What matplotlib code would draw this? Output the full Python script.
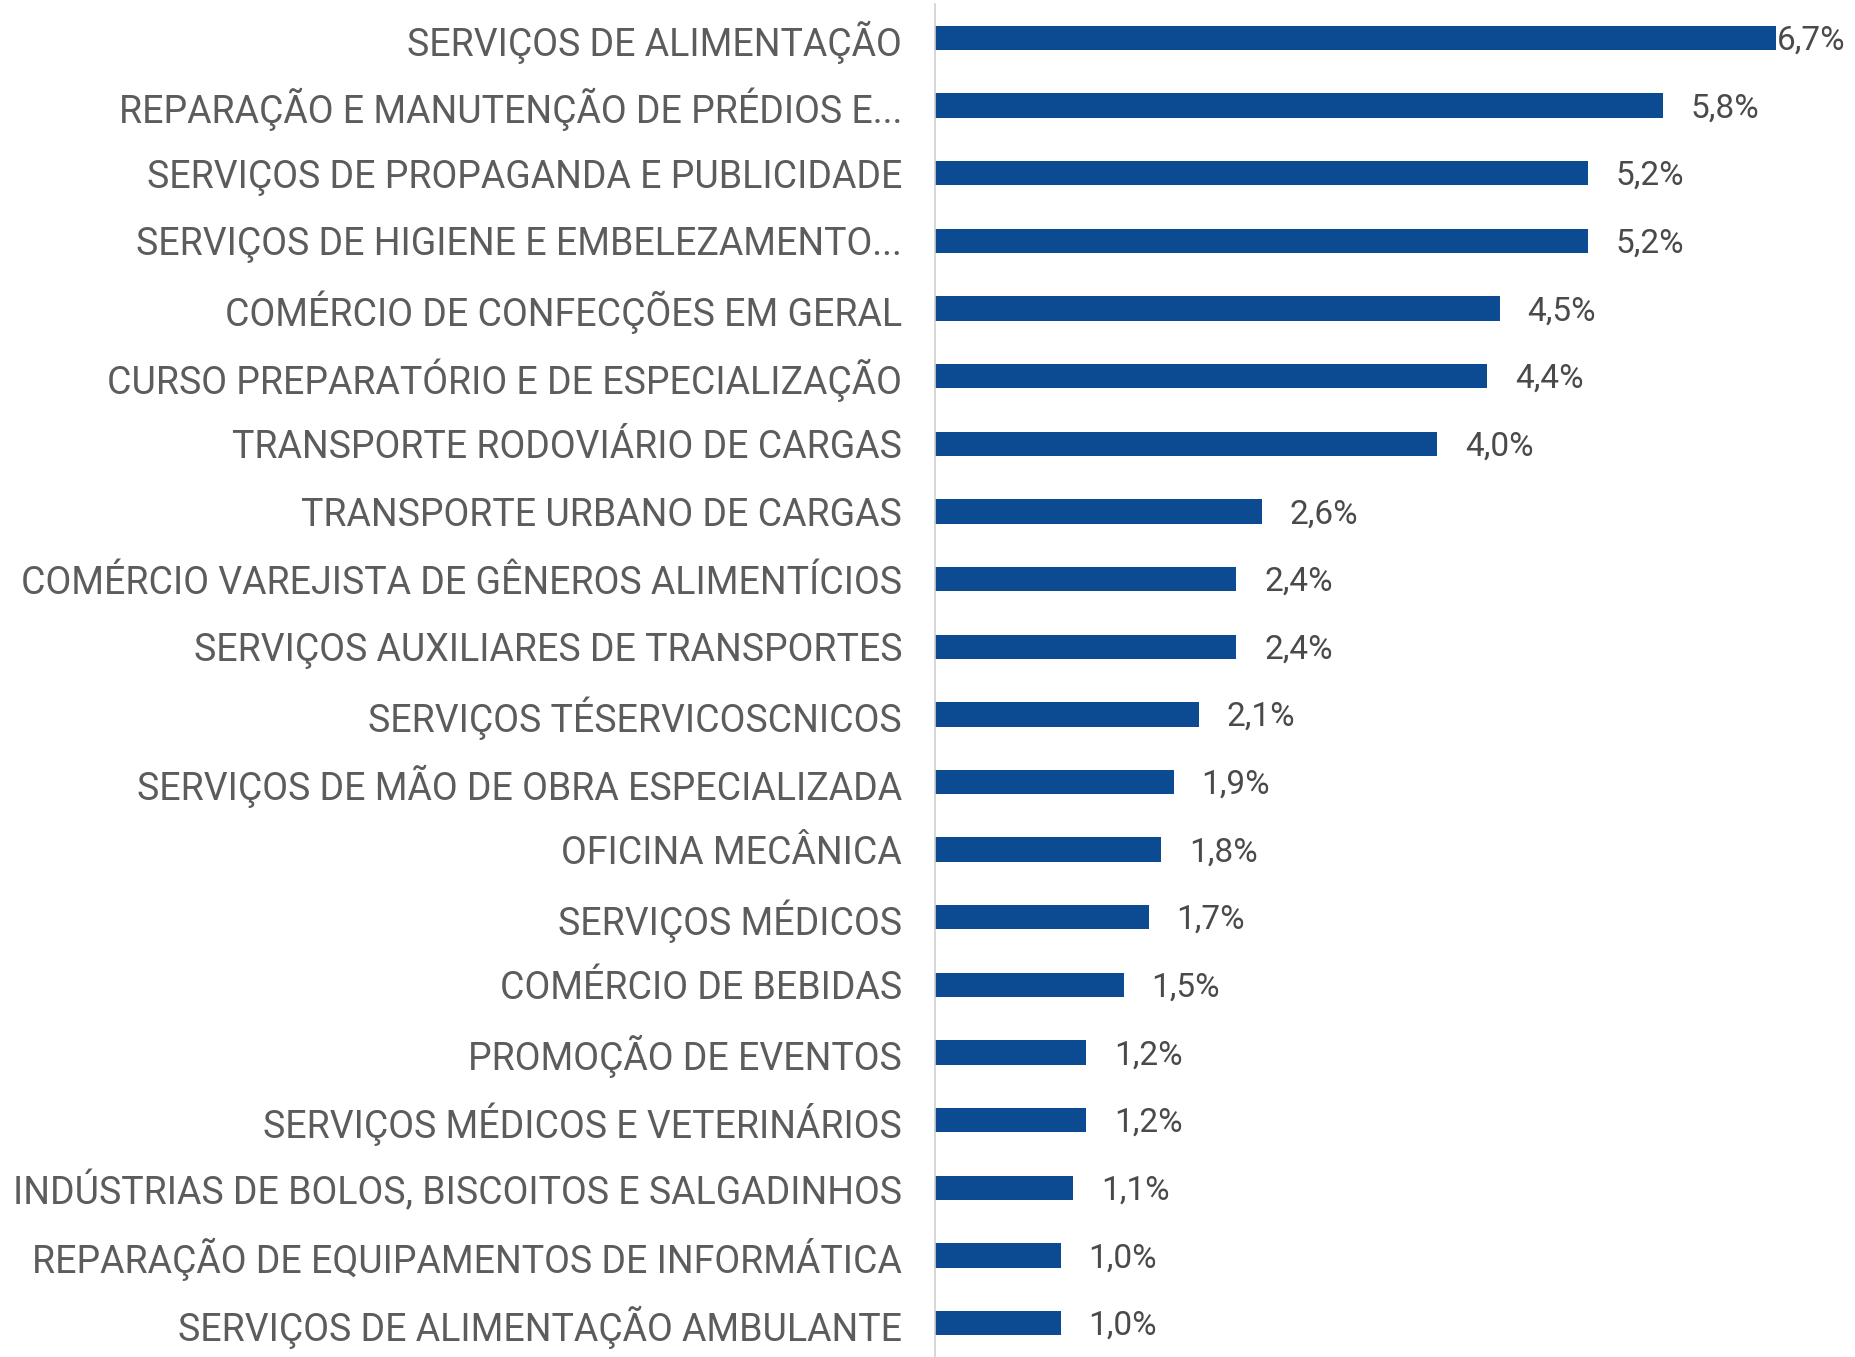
import matplotlib.pyplot as plt
from matplotlib import font_manager

# Data
categories = [
    'SERVIÇOS DE ALIMENTAÇÃO',
    'REPARAÇÃO E MANUTENÇÃO DE PRÉDIOS E...',
    'SERVIÇOS DE PROPAGANDA E PUBLICIDADE',
    'SERVIÇOS DE HIGIENE E EMBELEZAMENTO...',
    'COMÉRCIO DE CONFECÇÕES EM GERAL',
    'CURSO PREPARATÓRIO E DE ESPECIALIZAÇÃO',
    'TRANSPORTE RODOVIÁRIO DE CARGAS',
    'TRANSPORTE URBANO DE CARGAS',
    'COMÉRCIO VAREJISTA DE GÊNEROS ALIMENTÍCIOS',
    'SERVIÇOS AUXILIARES DE TRANSPORTES',
    'SERVIÇOS TÉSERVICOSCNICOS',
    'SERVIÇOS DE MÃO DE OBRA ESPECIALIZADA',
    'OFICINA MECÂNICA',
    'SERVIÇOS MÉDICOS',
    'COMÉRCIO DE BEBIDAS',
    'PROMOÇÃO DE EVENTOS',
    'SERVIÇOS MÉDICOS E VETERINÁRIOS',
    'INDÚSTRIAS DE BOLOS, BISCOITOS E SALGADINHOS',
    'REPARAÇÃO DE EQUIPAMENTOS DE INFORMÁTICA',
    'SERVIÇOS DE ALIMENTAÇÃO AMBULANTE',
]
values = [6.7, 5.8, 5.2, 5.2, 4.5, 4.4, 4.0, 2.6, 2.4, 2.4,
          2.1, 1.9, 1.8, 1.7, 1.5, 1.2, 1.2, 1.1, 1.0, 1.0]
value_labels = ['6,7%', '5,8%', '5,2%', '5,2%', '4,5%', '4,4%', '4,0%', '2,6%', '2,4%', '2,4%',
                '2,1%', '1,9%', '1,8%', '1,7%', '1,5%', '1,2%', '1,2%', '1,1%', '1,0%', '1,0%']

installed = {f.name for f in font_manager.fontManager.ttflist}
family = 'Liberation Sans Narrow' if 'Liberation Sans Narrow' in installed else 'Roboto'
plt.rcParams['font.family'] = [family, 'DejaVu Sans']

fig = plt.figure(figsize=(18.56, 13.57), dpi=100)
ax = fig.add_axes([0.504, 0.0, 0.496, 0.997])

y = range(len(categories))
bars = ax.barh(y, values, height=0.36, color='#0C4A92')
ax.set_xlim(0, 7.34)
ax.set_ylim(len(categories) - 0.5, -0.5)

ax.set_yticks(list(y))
ax.set_yticklabels(categories, fontsize=27, color='#5c5c5c')
ax.tick_params(axis='y', length=0, pad=24)
ax.set_xticks([])

for i, (b, lab) in enumerate(zip(bars, value_labels)):
    pad = 1 if i == 0 else 20
    ax.annotate(lab, (b.get_width(), b.get_y() + b.get_height() / 2),
                xytext=(pad, -2), textcoords='offset points',
                ha='left', va='center', fontsize=24, color='#4a4a4a')

for s in ['top', 'right', 'bottom']:
    ax.spines[s].set_visible(False)
ax.spines['left'].set_color('#d0d0d0')
ax.spines['left'].set_linewidth(1.2)

fig.savefig('out.png', dpi=100)
